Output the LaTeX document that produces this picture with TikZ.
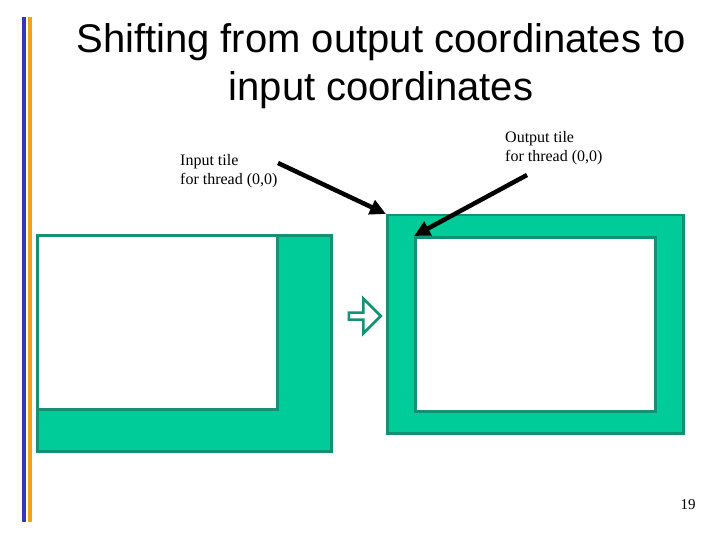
\documentclass[tikz,border=0pt]{standalone}
\usepackage{fontspec}
\setmainfont{Liberation Serif}
\setsansfont{Liberation Sans}
\usetikzlibrary{arrows.meta, positioning, calc, shapes.arrows}
\definecolor{tilegreen}{HTML}{00CC99}
\definecolor{tileedge}{HTML}{139173}
\definecolor{barblue}{HTML}{3636B8}
\definecolor{barorange}{HTML}{F2A024}
\tikzset{
    outertile/.style = {rectangle, draw=tileedge, line width=2.5pt, fill=tilegreen, inner sep=0pt},
    innertile/.style = {rectangle, draw=tileedge, line width=2.5pt, fill=white, inner sep=0pt},
    label/.style = {font=\fontsize{16}{19}\selectfont, align=left, inner sep=0pt},
    pointer/.style = {line width=4.5pt, -{Triangle[length=16pt, width=15pt]}}
}
\begin{document}
\begin{tikzpicture}[x=1pt, y=-1pt]
\useasboundingbox (0,0) rectangle (720,540);
% side bars
\fill[barblue] (22,17) rectangle (26,522);
\fill[barorange] (28,17) rectangle (32,522);
% title
\node (title) [font=\sffamily\fontsize{40}{48}\selectfont, align=center] at (381,66) {Shifting from output coordinates to\\input coordinates};
% input tile (left)
\node (inOuter) [outertile, minimum width=294pt, minimum height=216pt, anchor=north west] at (36,234) {};
\node (inInner) [innertile, minimum width=240pt, minimum height=174pt, anchor=north west] at (inOuter.north west) {};
% output tile (right)
\node (outOuter) [outertile, minimum width=296pt, minimum height=218pt, anchor=north west] at (386,214) {};
\node (outInner) [innertile, minimum width=240pt, minimum height=174pt, anchor=north west] at (414,236) {};
% shift arrow
\node (shift) [single arrow, draw=tileedge, line width=2.5pt, fill=white, minimum height=32pt, minimum width=35pt, single arrow head extend=9pt, inner sep=1pt] at (363,316) {};
% labels
\node (inLabel) [label, anchor=north west] at (180,154) {Input tile\\for thread (0,0)};
\node (outLabel) [label, anchor=north west] at (505,131) {Output tile\\for thread (0,0)};
\coordinate (inStart) at (278,163);
\coordinate (outStart) at (527,175);
\draw [pointer] (inStart) -- (outOuter.north west);
\draw [pointer] (outStart) -- (outInner.north west);
% page number
\node (page) [font=\fontsize{15}{16}\selectfont, inner sep=0pt] at (688,505) {19};
\end{tikzpicture}
\end{document}
